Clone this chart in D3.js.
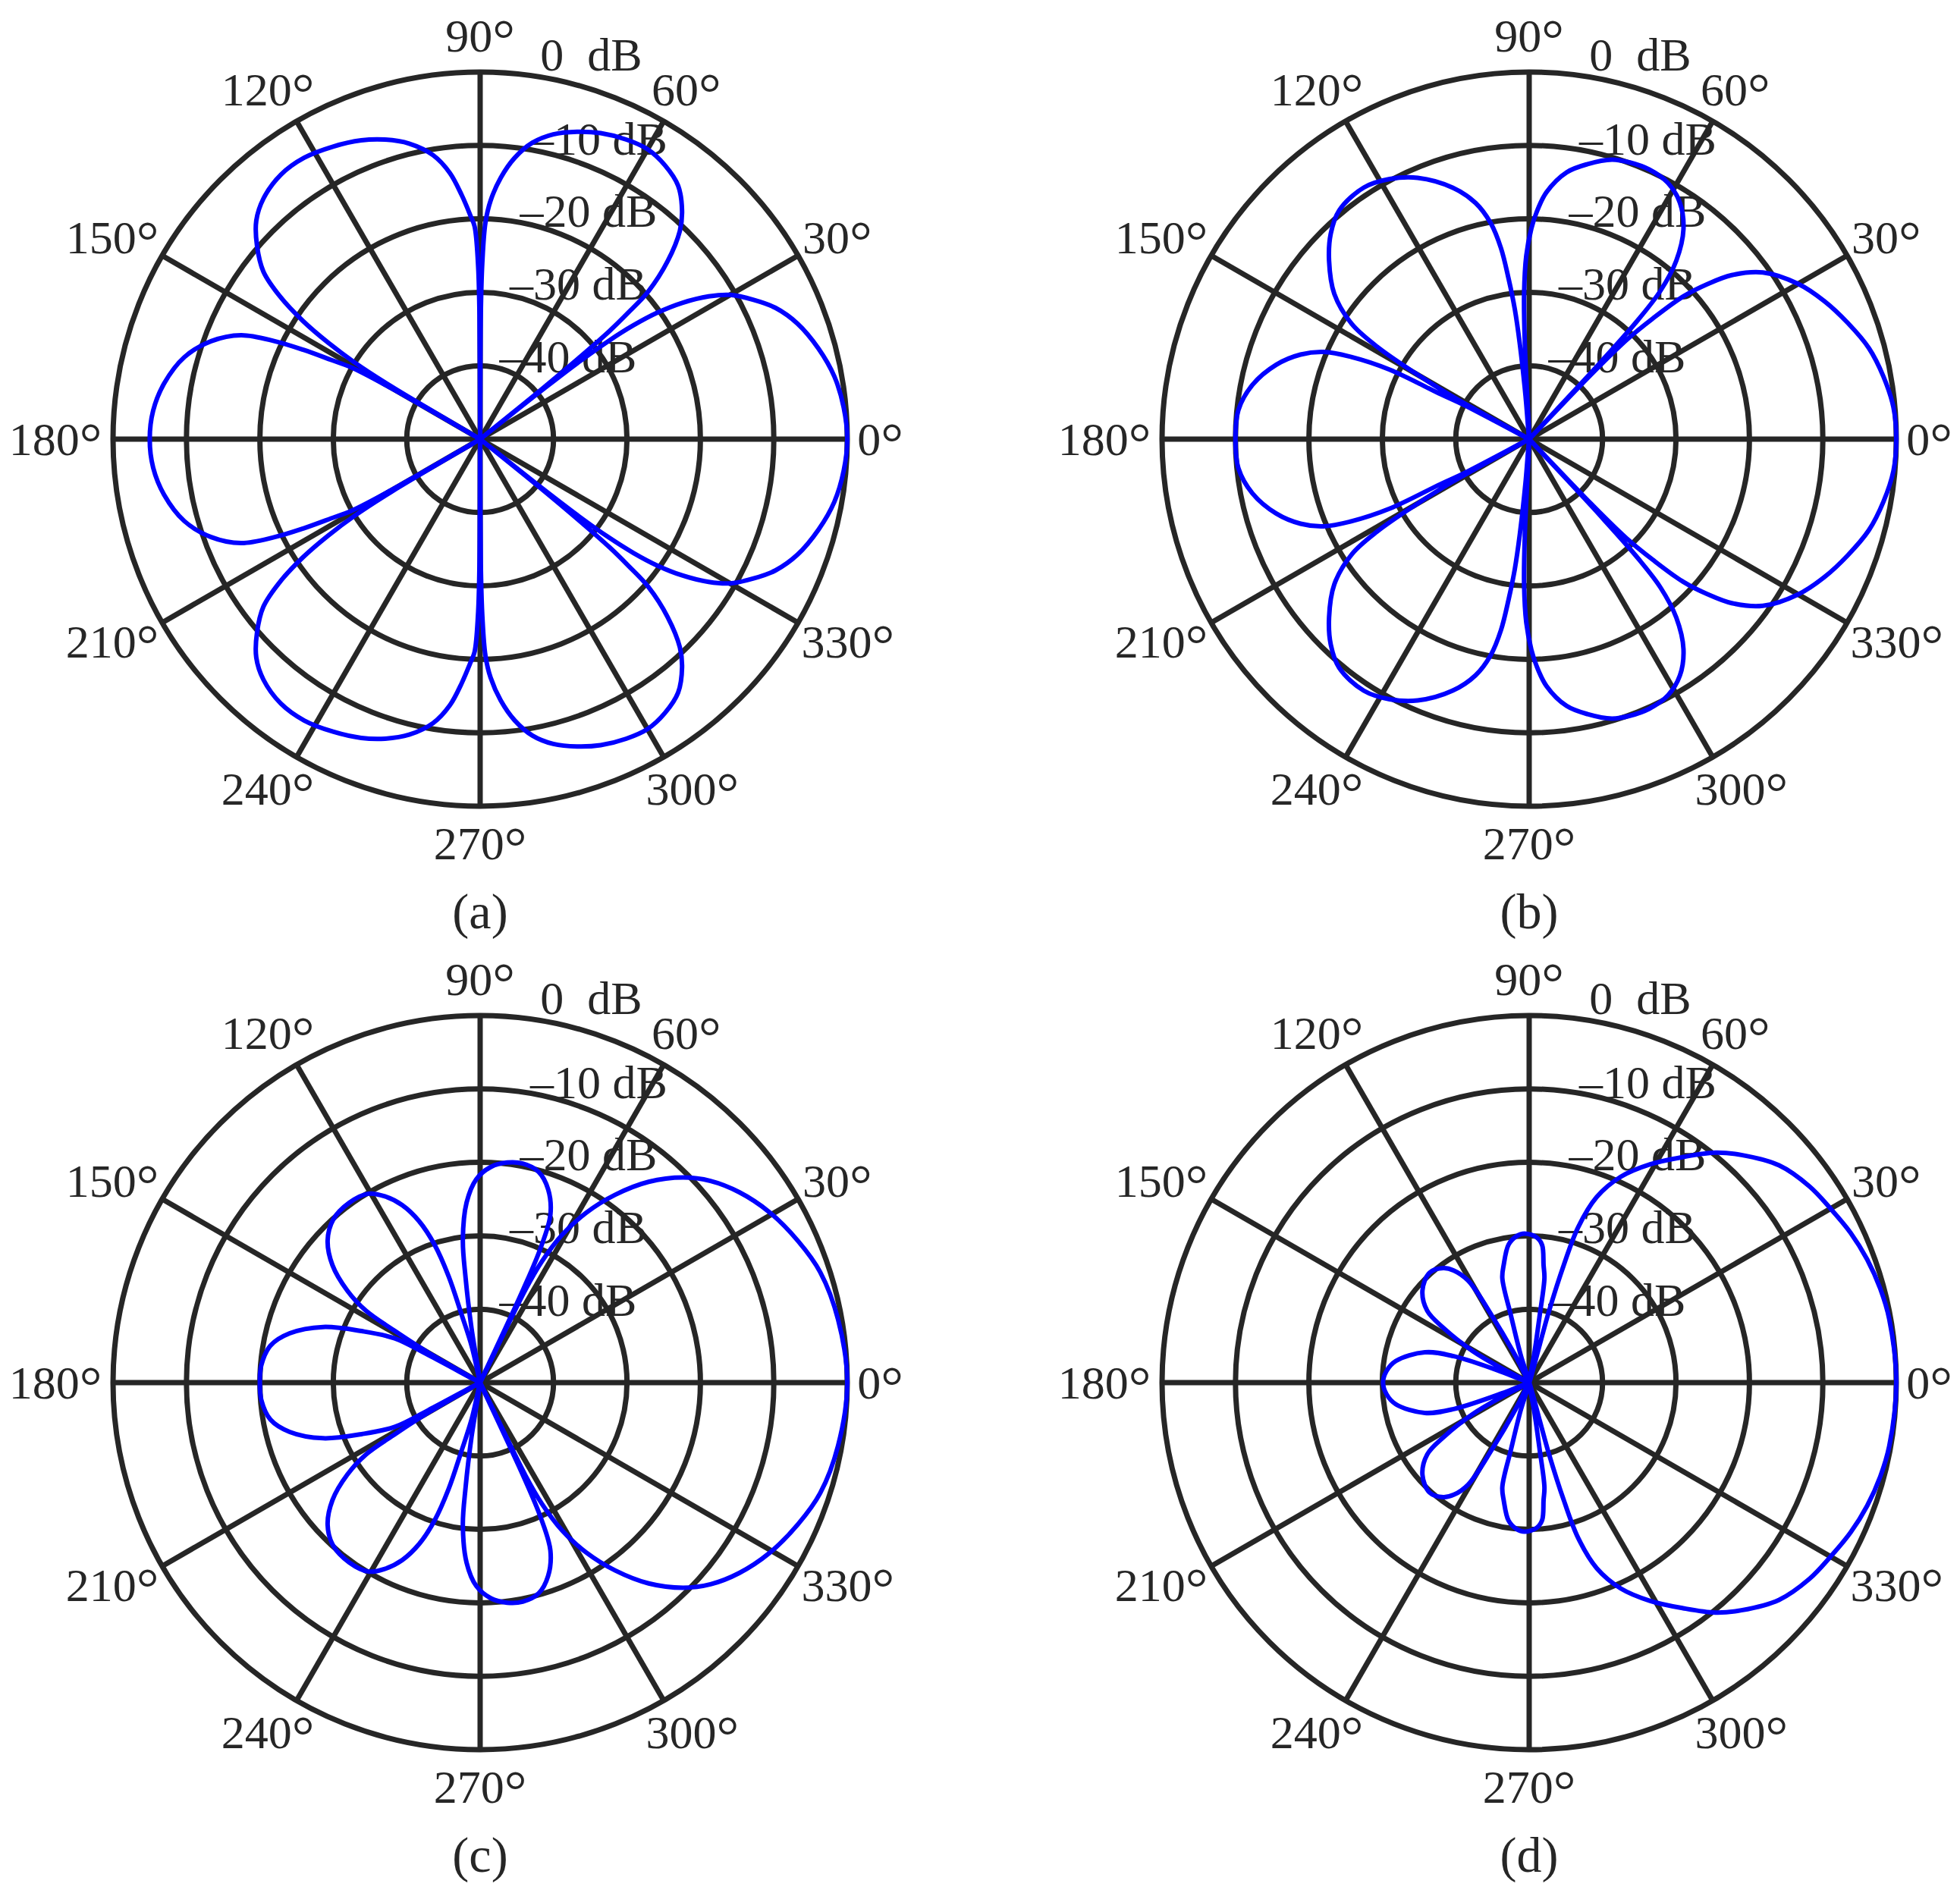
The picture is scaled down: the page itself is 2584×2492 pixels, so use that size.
<!DOCTYPE html>
<html>
<head>
<meta charset="utf-8">
<script src="https://cdn.jsdelivr.net/npm/d3@7"></script>
<style>
  body { margin: 0; background: #ffffff; }
  text { font-family: "Liberation Serif", "DejaVu Serif", serif; fill: #262626; white-space: pre; }
</style>
</head>
<body>
<svg id="chart" width="2584" height="2492" xmlns="http://www.w3.org/2000/svg"></svg>
<script>
// ---------------- DATA ----------------
// Patterns are symmetric about the 0°–180° axis; the upper half (0°..180°) is listed,
// the lower half is its mirror image. Values in dB; -60 marks a null below the -50 dB floor.

const panelNames = ["(a)", "(b)", "(c)", "(d)"];

const anglesA = [0, 5, 10, 15, 20, 24, 27, 30, 32, 34, 35.5, 36.6, 37.4, 38, 38.4, 38.7, 39, 39.4, 39.9, 40.5, 41.3, 43.5, 46.2, 48.5, 52, 56, 60, 64, 68.5, 72.5, 76.5, 80, 83, 85.5, 87.5, 88.6, 89.3, 89.7, 90, 90.3, 90.7, 91.5, 92.5, 94.3, 96.5, 99.4, 103.5, 107.6, 111.7, 116.7, 122, 127, 132, 135.7, 139.1, 142.3, 144.5, 146.3, 147.6, 148.6, 149.3, 149.7, 150.2, 150.9, 152, 153.2, 154.5, 156.5, 160, 164.5, 170, 175, 180];
const dbA     = [0, -0.3, -1.0, -2.3, -4.0, -6.0, -8.2, -10.7, -13.3, -16.8, -20.3, -24, -28, -33, -40, -60, -40, -33, -27, -23.5, -19.5, -14.8, -10.7, -8.5, -6.2, -5.0, -4.4, -4.6, -5.2, -6.1, -7.3, -9.0, -11.4, -14.3, -17.5, -20.5, -26, -33, -60, -33, -26, -21, -19.5, -16.7, -13.5, -10.8, -8.6, -7.2, -6.2, -5.4, -4.8, -4.9, -5.9, -7.4, -9.8, -12.7, -16.5, -21, -25.5, -30, -36, -60, -36, -30, -27, -23, -19, -14.5, -11, -8.2, -6.3, -5.3, -5.0];

const anglesB = [0, 5, 10, 15, 20, 25, 30, 35.5, 39, 41, 42.8, 44.3, 45.5, 46.2, 46.7, 47.1, 47.6, 48.5, 50.5, 53.7, 57.5, 61.6, 66, 70, 73.5, 78, 82, 86, 88.2, 89.4, 90.9, 92, 92.6, 94, 94.8, 95.6, 96.3, 97.3, 98.4, 100.1, 102.8, 106.9, 113.1, 118.2, 123.3, 129.7, 134, 138.3, 143.3, 147, 148.7, 149.9, 150.9, 151.6, 152.4, 153.1, 153.5, 155.2, 157, 159.7, 163.6, 168.9, 174.3, 180];
const dbB     = [0, -0.2, -1.0, -2.1, -3.8, -5.6, -7.7, -10.9, -14.5, -17.8, -21.4, -26.5, -31, -38, -60, -36, -28, -23, -18.5, -14.5, -11.8, -10.3, -9.8, -9.9, -10.3, -11.7, -13.3, -16.3, -19.2, -21.3, -25, -30.2, -37, -60, -44, -37, -32.2, -28, -23.7, -20.1, -17.0, -14.2, -11.3, -9.8, -9.0, -9.5, -11.1, -13.5, -16.9, -21.2, -25.8, -32, -38, -60, -40, -36.5, -28.8, -23.3, -19.6, -16.8, -14.1, -11.6, -10.2, -10.0];

const anglesC = [0, 10, 18, 24, 30.6, 36.3, 41.2, 45.3, 50, 54.3, 58, 61, 63, 64, 64.6, 65.2, 65.8, 67.3, 70.6, 74.5, 79, 83, 87.2, 91.1, 94.3, 96.9, 97.9, 99, 101, 103, 105.3, 106.5, 108.3, 110.7, 113.7, 117.1, 120.6, 126, 132, 137, 141.5, 145.3, 147.8, 148.8, 150, 151, 152, 152.6, 156.5, 160.5, 165.5, 170, 175.5, 180];
const dbC     = [0, -0.5, -1.3, -2.6, -4.3, -6.2, -8.3, -10.7, -14.3, -18.5, -22.7, -27, -31.5, -36, -60, -36, -30, -25.2, -22.1, -20.2, -19.6, -19.8, -20.6, -22.3, -25.4, -30.4, -35.6, -42.5, -60, -45, -40.2, -34.9, -30.2, -26.5, -23.6, -21.5, -20.1, -19.7, -20.1, -21.6, -24.3, -28.0, -31.6, -36.4, -42, -60, -42, -36.9, -32.4, -27.3, -23.2, -21.0, -20.1, -20.0];

const anglesD = [0, 10, 15, 20, 25, 30, 35, 41, 47, 51, 55.7, 61, 66, 70, 72.5, 73.6, 74.5, 77.5, 80, 81.1, 81.7, 83, 84.6, 87, 91.8, 95, 98.5, 102.2, 104.4, 105.2, 107, 112, 117, 119.1, 120.9, 123.9, 126.9, 132.2, 139.2, 144.8, 147.5, 150.8, 152.5, 155.5, 158.5, 160.7, 163.8, 170.8, 175.4, 180];
const dbD     = [0, -0.2, -0.5, -1.0, -1.7, -2.6, -3.4, -4.9, -7.6, -9.7, -12.8, -16.0, -19.3, -23.1, -27.8, -33.3, -40, -60, -46, -40.8, -35.6, -33.9, -31.2, -30.2, -29.7, -30.0, -31.0, -33.6, -35.3, -40.6, -46, -60, -46, -39.6, -33.8, -31.6, -30.5, -29.8, -30.8, -33.0, -36.2, -41.2, -46, -60, -46, -39.1, -35.2, -31.6, -30.5, -30.1];

const angleTicks = [0, 30, 60, 90, 120, 150, 180, 210, 240, 270, 300, 330];
const ringTicks  = [-40, -30, -20, -10, 0];
const ringLabels = ["\u201340 dB", "\u201330 dB", "\u201320 dB", "\u201310 dB", "0  dB"];

// ---------------- LAYOUT ----------------
const W = 2584, H = 2492;
const R = 484;
const centers = [[633, 579], [2016, 579], [633, 1823], [2016, 1823]];
const gridColor = "#262626";
const lineColor = "#0000ff";
const fontSize = 62;

const svg = d3.select("#chart");
svg.append("rect").attr("width", W).attr("height", H).attr("fill", "#ffffff");

const rScale = d3.scaleLinear().domain([-50, 0]).range([0, R]).clamp(true);
const toRad = d => d * Math.PI / 180;

const datasets = [
  [anglesA, dbA], [anglesB, dbB], [anglesC, dbC], [anglesD, dbD]
];

function fullPattern(angles, db) {
  const upper = angles.map((a, i) => ({ theta: a, db: db[i] }));
  const lower = upper.filter(p => p.theta > 0 && p.theta < 180)
                     .map(p => ({ theta: 360 - p.theta, db: p.db }))
                     .reverse();
  return upper.concat(lower);
}

const radial = d3.lineRadial()
  .angle(d => Math.PI / 2 - toRad(d.theta))
  .radius(d => rScale(d.db))
  .curve(d3.curveCatmullRomClosed.alpha(0.5));

datasets.forEach(([angles, db], i) => {
  const [cx, cy] = centers[i];
  const g = svg.append("g").attr("transform", `translate(${cx},${cy})`);

  // rings
  g.selectAll("circle.ring").data(ringTicks).join("circle")
    .attr("class", "ring")
    .attr("r", d => rScale(d))
    .attr("fill", "none")
    .attr("stroke", gridColor)
    .attr("stroke-width", 7);

  // spokes
  g.selectAll("line.spoke").data(angleTicks).join("line")
    .attr("class", "spoke")
    .attr("x1", 0).attr("y1", 0)
    .attr("x2", d => R * Math.cos(toRad(d)))
    .attr("y2", d => -R * Math.sin(toRad(d)))
    .attr("stroke", gridColor)
    .attr("stroke-width", 7)
    .attr("stroke-linecap", "butt");

  // angle labels
  let w0 = null;
  g.selectAll("text.ang").data(angleTicks).join("text")
    .attr("class", "ang")
    .attr("text-anchor", "middle")
    .attr("font-size", fontSize)
    .attr("dy", "0.36em")
    .each(function (d) {
      const t = d3.select(this);
      t.append("tspan").text(String(d));
      t.append("tspan").attr("font-size", fontSize * 1.2).attr("dy", "0.12em").text("\u00B0");
    })
    .each(function (d) {
      const w = this.getComputedTextLength();
      if (w0 === null) w0 = w;
      const c = Math.cos(toRad(d)), s = Math.sin(toRad(d));
      const dx = (1.09 * R + 0.52 * (w - w0)) * c;
      const dy = -1.1 * R * s - 1;
      d3.select(this).attr("x", dx).attr("y", dy);
    });

  // ring labels (placed along 82°)
  const a82 = toRad(82);
  g.selectAll("text.ringlab").data(ringTicks).join("text")
    .attr("class", "ringlab")
    .attr("font-size", fontSize)
    .attr("x", d => rScale(d) * Math.cos(a82) + 12)
    .attr("y", d => d === 0 ? -R - 2 : -rScale(d) * Math.sin(a82) + 8)
    .text((d, j) => ringLabels[j]);

  // pattern
  g.append("path")
    .datum(fullPattern(angles, db))
    .attr("d", radial)
    .attr("fill", "none")
    .attr("stroke", lineColor)
    .attr("stroke-width", 6)
    .attr("stroke-linejoin", "round");

  // caption
  svg.append("text")
    .attr("x", cx)
    .attr("y", cy + 645)
    .attr("text-anchor", "middle")
    .attr("font-size", 66)
    .text(panelNames[i]);
});
</script>
</body>
</html>
